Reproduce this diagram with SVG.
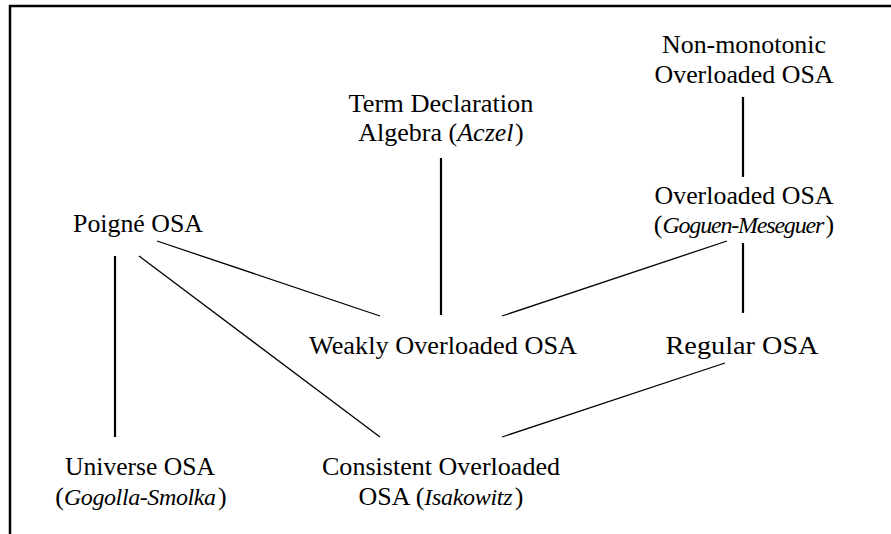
<svg xmlns="http://www.w3.org/2000/svg" width="891" height="534" viewBox="0 0 891 534">
<style>
text{font-family:"Liberation Serif","DejaVu Serif","Noto Serif",serif;font-size:26px;fill:#000;text-anchor:middle}
.i{font-style:italic;font-size:24px}
.thick{stroke:#000;stroke-width:2.2;fill:none}
.thin{stroke:#000;stroke-width:1.3;fill:none}
.frame{stroke:#000;stroke-width:2.5;fill:none}
</style>
<rect width="891" height="534" fill="#fff"/>
<path class="frame" d="M10,534 V6 H891"/>
<g id="connectors">
<line class="thick" x1="743" y1="97" x2="743" y2="177"/>
<line class="thick" x1="743" y1="243" x2="743" y2="313"/>
<line class="thick" x1="441" y1="158" x2="441" y2="315"/>
<line class="thick" x1="115" y1="256" x2="115" y2="437"/>
<line class="thin" x1="157" y1="241" x2="380" y2="316"/>
<line class="thin" x1="139" y1="256" x2="380" y2="437"/>
<line class="thin" x1="727" y1="241" x2="502" y2="316"/>
<line class="thin" x1="725" y1="363" x2="502" y2="437"/>
</g>
<g id="nonmonotonic">
<text x="744" y="53" textLength="164" lengthAdjust="spacingAndGlyphs">Non-monotonic</text>
<text x="744" y="83" textLength="179" lengthAdjust="spacingAndGlyphs">Overloaded OSA</text>
</g>
<g id="termdecl">
<text x="441" y="112" textLength="185" lengthAdjust="spacingAndGlyphs">Term Declaration</text>
<text x="441" y="141">Algebra (<tspan class="i" style="font-size:26px">Aczel</tspan><tspan dx="1.5">)</tspan></text>
</g>
<g id="overloaded">
<text x="744" y="204" textLength="179" lengthAdjust="spacingAndGlyphs">Overloaded OSA</text>
<text x="744" y="233">(<tspan class="i" letter-spacing="-1.2">Goguen-Meseguer</tspan><tspan dx="2.5">)</tspan></text>
</g>
<g id="poigne">
<text x="138" y="232" textLength="130" lengthAdjust="spacingAndGlyphs">Poigné OSA</text>
</g>
<g id="weakly">
<text x="443" y="354" textLength="268" lengthAdjust="spacingAndGlyphs">Weakly Overloaded OSA</text>
</g>
<g id="regular">
<text x="742" y="354" textLength="153" lengthAdjust="spacingAndGlyphs">Regular OSA</text>
</g>
<g id="universe">
<text x="140" y="475" textLength="150" lengthAdjust="spacingAndGlyphs">Universe OSA</text>
<text x="141" y="505">(<tspan class="i" letter-spacing="-0.4">Gogolla-Smolka</tspan><tspan dx="2.5">)</tspan></text>
</g>
<g id="consistent">
<text x="441" y="475" textLength="238" lengthAdjust="spacingAndGlyphs">Consistent Overloaded</text>
<text x="441" y="505">OSA (<tspan class="i" letter-spacing="-0.3">Isakowitz</tspan><tspan dx="2.5">)</tspan></text>
</g>
</svg>
